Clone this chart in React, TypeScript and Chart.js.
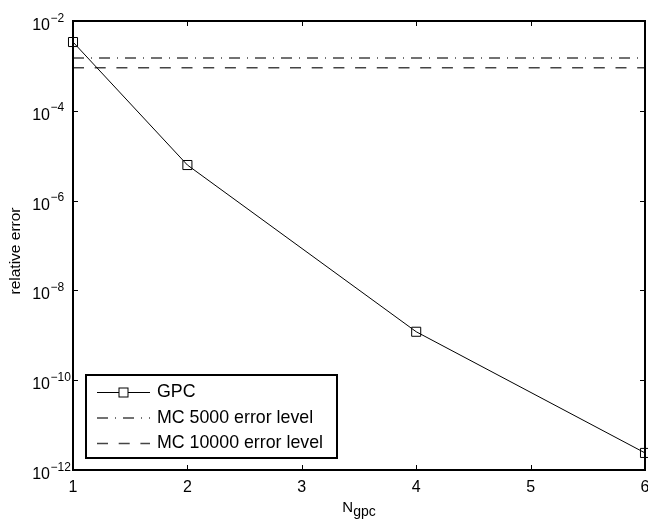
import React, { useEffect, useRef } from "react";
import { Chart, registerables } from "chart.js";

Chart.register(...registerables);

// ---- data ----
const xValues = [1, 2, 4, 6];
const gpcError = [3.4e-3, 6.2e-6, 1.2e-9, 2.4e-12];
const mcX = [1, 6];
const mc5000Level = 1.5e-3;
const mc10000Level = 9.1e-4;
const seriesLabels = ["GPC", "MC 5000 error level", "MC 10000 error level"];
const xTicks = [1, 2, 3, 4, 5, 6];
const yTickExponents = [-12, -10, -8, -6, -4, -2];
const yTitle = "relative error";
const xTitleMain = "N";
const xTitleSub = "gpc";

const FONT = "'Liberation Sans', Arial, Helvetica, sans-serif";

const overlayPlugin = {
  id: "overlay",
  afterDraw(chart: any) {
    const { ctx, chartArea: a, scales } = chart;
    const xs = scales.x;
    const ys = scales.y;
    ctx.save();
    // axes box
    ctx.strokeStyle = "#000";
    ctx.lineWidth = 2;
    ctx.setLineDash([]);
    ctx.strokeRect(a.left, a.top, a.right - a.left, a.bottom - a.top);
    // inward ticks
    ctx.lineWidth = 1;
    ctx.beginPath();
    for (const t of xTicks) {
      const px = Math.round(xs.getPixelForValue(t)) + 0.5;
      ctx.moveTo(px, a.bottom);
      ctx.lineTo(px, a.bottom - 5);
      ctx.moveTo(px, a.top);
      ctx.lineTo(px, a.top + 5);
    }
    for (const e of yTickExponents) {
      const py = Math.round(ys.getPixelForValue(Math.pow(10, e))) + 0.5;
      ctx.moveTo(a.left, py);
      ctx.lineTo(a.left + 5, py);
      ctx.moveTo(a.right, py);
      ctx.lineTo(a.right - 5, py);
    }
    ctx.stroke();

    ctx.fillStyle = "#000";
    // x tick labels
    ctx.font = `16px ${FONT}`;
    ctx.textAlign = "center";
    ctx.textBaseline = "alphabetic";
    for (const t of xTicks) {
      ctx.fillText(String(t), xs.getPixelForValue(t), a.bottom + 22);
    }
    // y tick labels with superscripts
    for (const e of yTickExponents) {
      const py = ys.getPixelForValue(Math.pow(10, e));
      ctx.font = `16px ${FONT}`;
      ctx.textAlign = "right";
      ctx.fillText("10", a.left - 23, py + 9);
      ctx.font = `12px ${FONT}`;
      ctx.textAlign = "left";
      ctx.fillText("\u2212" + String(Math.abs(e)), a.left - 22.5, py + 0.5);
    }
    // x title with subscript
    ctx.font = `15px ${FONT}`;
    const wN = ctx.measureText(xTitleMain).width;
    ctx.font = `14px ${FONT}`;
    const wS = ctx.measureText(xTitleSub).width;
    const cx = (a.left + a.right) / 2;
    const sx = cx - (wN + wS) / 2;
    ctx.textAlign = "left";
    ctx.font = `15px ${FONT}`;
    ctx.fillText(xTitleMain, sx, a.bottom + 42);
    ctx.font = `14px ${FONT}`;
    ctx.fillText(xTitleSub, sx + wN, a.bottom + 46);
    // y title
    ctx.save();
    ctx.translate(20, 251);
    ctx.rotate(-Math.PI / 2);
    ctx.font = `15.5px ${FONT}`;
    ctx.textAlign = "center";
    ctx.textBaseline = "alphabetic";
    ctx.fillText(yTitle, 0, 0);
    ctx.restore();

    // legend
    const lx = 86, ly = 375, lw = 251, lh = 83;
    ctx.fillStyle = "#fff";
    ctx.fillRect(lx, ly, lw, lh);
    ctx.strokeStyle = "#000";
    ctx.lineWidth = 2;
    ctx.strokeRect(lx, ly, lw, lh);
    const rows = [392.5, 418, 443.5];
    chart.data.datasets.forEach((ds: any, i: number) => {
      const ry = rows[i];
      ctx.save();
      ctx.strokeStyle = ds.borderColor;
      ctx.lineWidth = ds.borderWidth;
      ctx.setLineDash(ds.borderDash || []);
      ctx.beginPath();
      ctx.moveTo(97, ry);
      ctx.lineTo(150, ry);
      ctx.stroke();
      ctx.setLineDash([]);
      if (ds.pointRadius > 0) {
        ctx.fillStyle = "#fff";
        ctx.fillRect(119, ry - 4.5, 9, 9);
        ctx.strokeStyle = "#000";
        ctx.lineWidth = 1;
        ctx.strokeRect(119, ry - 4.5, 9, 9);
      }
      ctx.restore();
      ctx.fillStyle = "#000";
      ctx.font = `17.8px ${FONT}`;
      ctx.textAlign = "left";
      ctx.textBaseline = "middle";
      ctx.fillText(ds.label, 157, ry);
    });
    ctx.restore();
  },
};

export default function App() {
  const ref = useRef<HTMLCanvasElement | null>(null);
  useEffect(() => {
    if (!ref.current) return;
    const chart = new Chart(ref.current, {
      type: "line",
      data: {
        datasets: [
          {
            label: seriesLabels[0],
            data: xValues.map((x, i) => ({ x, y: gpcError[i] })),
            borderColor: "#000",
            borderWidth: 1,
            pointStyle: "rect",
            pointRadius: 6.4,
            pointBackgroundColor: "rgba(0,0,0,0)",
            pointBorderColor: "#000",
            pointBorderWidth: 1,
            tension: 0,
            clip: false,
          } as any,
          {
            label: seriesLabels[1],
            data: mcX.map((x) => ({ x, y: mc5000Level })),
            borderColor: "#444",
            borderWidth: 1.5,
            borderDash: [11, 7, 1, 7],
            pointRadius: 0,
            tension: 0,
          },
          {
            label: seriesLabels[2],
            data: mcX.map((x) => ({ x, y: mc10000Level })),
            borderColor: "#444",
            borderWidth: 1.5,
            borderDash: [11, 10.7],
            pointRadius: 0,
            tension: 0,
          },
        ],
      },
      options: {
        responsive: false,
        animation: false,
        devicePixelRatio: 1,
        layout: { autoPadding: false, padding: { top: 21, right: 3, left: 0, bottom: 0 } },
        scales: {
          x: {
            type: "linear",
            min: 1,
            max: 6,
            grid: { display: false },
            border: { display: false },
            ticks: { display: false },
            afterFit: (s: any) => {
              s.height = 50;
            },
          },
          y: {
            type: "logarithmic",
            min: 1e-12,
            max: 1e-2,
            grid: { display: false },
            border: { display: false },
            ticks: { display: false },
            afterFit: (s: any) => {
              s.width = 73;
            },
          },
        },
        plugins: {
          legend: { display: false },
          tooltip: { enabled: false },
        },
      },
      plugins: [overlayPlugin],
    });
    return () => chart.destroy();
  }, []);
  return (
    <div style={{ position: "fixed", left: 0, top: 0, width: 648, height: 520, background: "#fff" }}>
      <canvas ref={ref} width={648} height={520} style={{ width: 648, height: 520 }} />
    </div>
  );
}
